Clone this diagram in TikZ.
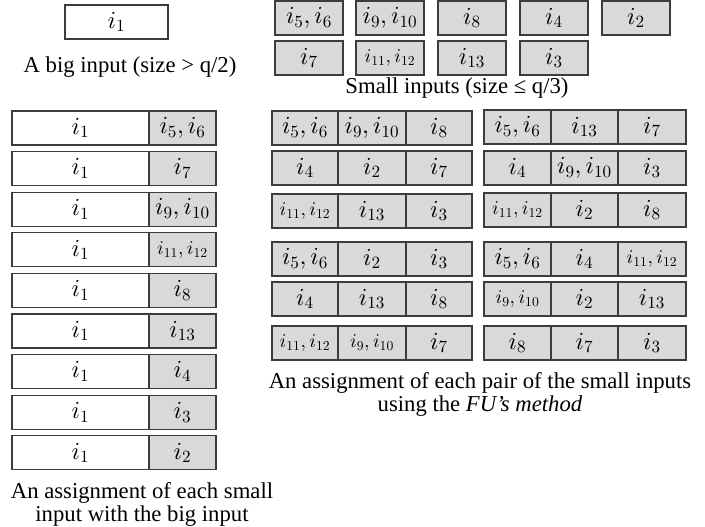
\documentclass[tikz,border=0pt]{standalone}
\usepackage{fontspec}
\setmainfont{Liberation Serif}
\usetikzlibrary{positioning}
% scalable math letters and digits at any size
\DeclareFontShape{OML}{cmm}{m}{it}{<->cmmi10}{}
\DeclareFontShape{OT1}{cmr}{m}{n}{<->cmr10}{}
\definecolor{cellgray}{HTML}{D9D9D9}
\definecolor{celledge}{HTML}{3C3C3C}
\tikzset{
  cell/.style={draw=celledge, line width=1.1pt, fill=cellgray, minimum height=34pt,
    minimum width=67pt, inner sep=0pt, outer sep=0pt, anchor=north west,
    font=\fontsize{24.5}{26}\selectfont},
  whitecell/.style={cell, fill=white},
  tinylab/.style={font=\fontsize{19.5}{21}\selectfont},
  caption/.style={font=\fontsize{22.7}{23}\selectfont, align=center}
}

\begin{document}
\begin{tikzpicture}[x=1pt,y=-1pt]
  \useasboundingbox (0,0) rectangle (705,527);
  % the big input
  \node[whitecell, minimum width=103pt] (big) at (65,5) {$i_1$};
  \node[caption] (bigcap) at (130,67) {A big input (size > q/2)};
  % the small inputs
  \foreach \n/\x/\y/\lab/\st in {s56/275/1/{$i_5,i_6$}/, s910/356/1/{$i_9,i_{10}$}/,
        s8/438/1/{$i_8$}/, s4/520/1/{$i_4$}/, s2/602/1/{$i_2$}/,
        s7/275/41/{$i_7$}/, s1112/356/41/{$i_{11},i_{12}$}/tinylab,
        s13/438/41/{$i_{13}$}/, s3/520/41/{$i_3$}/}{
    \node[cell, minimum width=68pt, \st] (\n) at (\x,\y) {\lab};}
  \node[caption] (smallcap) at (457,88) {Small inputs (size ≤ q/3)};
  % each small input with the big input
  \foreach \k/\lab/\st in {1/{$i_5,i_6$}/, 2/{$i_7$}/, 3/{$i_9,i_{10}$}/,
        4/{$i_{11},i_{12}$}/tinylab, 5/{$i_8$}/, 6/{$i_{13}$}/, 7/{$i_4$}/,
        8/{$i_3$}/, 9/{$i_2$}/}{
    \node[whitecell, minimum width=137pt] (b\k) at (12,{111+40.6*(\k-1)}) {$i_1$};
    \node[cell, right=0pt of b\k, \st] (p\k) {\lab};}
  \node[caption] (leftcap) at (142,504) {An assignment of each small\\input with the big input};
  % pairs of small inputs, left group
  \foreach \r/\y/\la/\sa/\lb/\sb/\lc/\sc in {
        1/111/{$i_5,i_6$}//{$i_9,i_{10}$}//{$i_8$}/,
        2/151/{$i_4$}//{$i_2$}//{$i_7$}/,
        3/194/{$i_{11},i_{12}$}/tinylab/{$i_{13}$}//{$i_3$}/,
        4/242/{$i_5,i_6$}//{$i_2$}//{$i_3$}/,
        5/282/{$i_4$}//{$i_{13}$}//{$i_8$}/,
        6/326/{$i_{11},i_{12}$}/tinylab/{$i_9,i_{10}$}/tinylab/{$i_7$}/}{
    \node[cell, minimum width=66pt, \sa] (la\r) at (272,\y) {\la};
    \node[cell, minimum width=68pt, right=0pt of la\r, \sb] (lb\r) {\lb};
    \node[cell, minimum width=66pt, right=0pt of lb\r, \sc] (lc\r) {\lc};}
  % pairs of small inputs, right group
  \foreach \r/\y/\la/\sa/\lb/\sb/\lc/\sc in {
        1/110/{$i_5,i_6$}//{$i_{13}$}//{$i_7$}/,
        2/151/{$i_4$}//{$i_9,i_{10}$}//{$i_3$}/,
        3/193/{$i_{11},i_{12}$}/tinylab/{$i_2$}//{$i_8$}/,
        4/242/{$i_5,i_6$}//{$i_4$}//{$i_{11},i_{12}$}/tinylab,
        5/282/{$i_9,i_{10}$}/tinylab/{$i_2$}//{$i_{13}$}/,
        6/326/{$i_8$}//{$i_7$}//{$i_3$}/}{
    \node[cell, minimum width=67pt, \sa] (ra\r) at (484,\y) {\la};
    \node[cell, minimum width=67pt, right=0pt of ra\r, \sb] (rb\r) {\lb};
    \node[cell, minimum width=68pt, right=0pt of rb\r, \sc] (rc\r) {\lc};}
  \node[caption] (rightcap) at (480,394) {An assignment of each pair of the small inputs\\using the \textit{FU’s method}};
\end{tikzpicture}
\end{document}
